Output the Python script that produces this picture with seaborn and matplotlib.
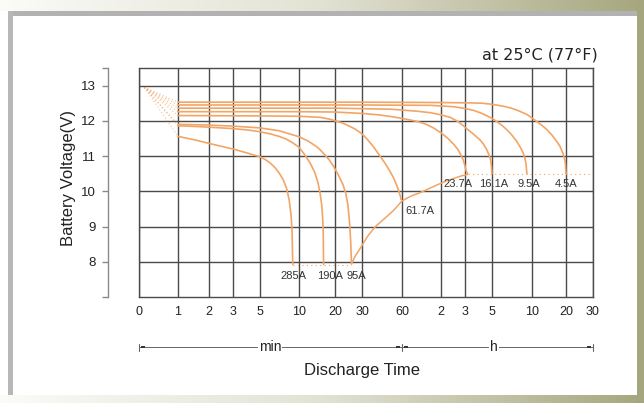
import numpy as np
import pandas as pd
import seaborn as sns
import matplotlib.pyplot as plt
import matplotlib.transforms as mtransforms
from matplotlib.patches import Rectangle
from matplotlib.colors import LinearSegmentedColormap

# discharge curves: time in minutes, voltage in V
t_285 = [1, 1.5, 2, 3, 4, 5, 5.5, 6, 6.5, 7, 7.5, 8, 8.4, 8.7, 8.85, 8.9, 8.95]
v_285 = [11.56, 11.45, 11.36, 11.2, 11.08, 10.98, 10.9, 10.8, 10.68, 10.53, 10.35, 10.1,
         9.75, 9.3, 8.8, 8.3, 7.92]

t_190 = [1, 1.5, 2, 3, 4, 5, 6, 7, 8, 9, 10, 11, 12.4, 13.5, 14.4, 15, 15.5, 15.8, 15.95, 16.0, 16.05]
v_190 = [11.86, 11.84, 11.82, 11.78, 11.74, 11.69, 11.63, 11.56, 11.48, 11.37, 11.25, 11.07,
         10.8, 10.55, 10.25, 9.95, 9.6, 9.2, 8.8, 8.35, 7.92]

t_95 = [1, 2, 3, 5, 7, 10, 12, 14, 15, 16.5, 18, 19.5, 21, 22.5, 23.5, 24.3, 24.9, 25.3, 25.5, 25.6]
v_95 = [11.9, 11.88, 11.85, 11.8, 11.72, 11.55, 11.42, 11.27, 11.18, 11.03, 10.88, 10.7,
        10.47, 10.2, 9.95, 9.6, 9.1, 8.6, 8.2, 7.94]

t_617 = [1, 5, 10, 15, 18, 20, 22, 24, 27, 30, 33, 37, 41, 45, 49, 52, 55, 57, 58.5, 59]
v_617 = [12.15, 12.14, 12.13, 12.1, 12.05, 12.0, 11.95, 11.88, 11.77, 11.63, 11.47, 11.24,
         11.0, 10.78, 10.55, 10.37, 10.15, 9.98, 9.85, 9.77]

t_237 = [1, 10, 20, 30, 40, 50, 60, 75, 90, 105, 120, 135, 150, 160, 168, 175, 180, 184, 189]
v_237 = [12.26, 12.26, 12.25, 12.21, 12.17, 12.12, 12.07, 12.0, 11.92, 11.8, 11.66, 11.5,
         11.32, 11.18, 11.03, 10.88, 10.72, 10.58, 10.5]

t_161 = [1, 20, 50, 80, 100, 120, 140, 160, 175, 190, 205, 220, 239, 255, 270, 282, 292, 297, 300]
v_161 = [12.36, 12.36, 12.33, 12.27, 12.23, 12.17, 12.1, 11.98, 11.86, 11.75, 11.66, 11.57,
         11.46, 11.34, 11.2, 11.05, 10.9, 10.7, 10.5]

t_95h = [1, 30, 100, 150, 180, 210, 240, 270, 300, 326, 360, 400, 431, 460, 490, 514, 530, 542, 549]
v_95h = [12.45, 12.45, 12.44, 12.4, 12.35, 12.3, 12.23, 12.15, 12.07, 11.98, 11.86, 11.7,
         11.56, 11.42, 11.25, 11.1, 10.95, 10.75, 10.5]

t_45 = [1, 30, 120, 200, 250, 300, 360, 420, 480, 550, 650, 730, 814, 900, 980, 1060, 1120,
        1160, 1185, 1200]
v_45 = [12.53, 12.53, 12.52, 12.51, 12.5, 12.47, 12.42, 12.36, 12.28, 12.18, 12.0, 11.88,
        11.75, 11.6, 11.44, 11.28, 11.1, 10.95, 10.8, 10.5]

# final discharge voltage line
t_end = [25.6, 27, 29.1, 31, 33, 36, 38.3, 42, 46, 51.6, 56, 59.7, 65, 72, 80, 87.5, 100,
         115, 131, 150, 170, 189]
v_end = [7.94, 8.15, 8.37, 8.55, 8.72, 8.9, 9.02, 9.15, 9.28, 9.45, 9.6, 9.72, 9.8, 9.88,
         9.94, 10.0, 10.1, 10.2, 10.29, 10.37, 10.44, 10.48]

currents = ['285A', '190A', '95A', '61.7A', '23.7A', '16.1A', '9.5A', '4.5A']
curves_t = [t_285, t_190, t_95, t_617, t_237, t_161, t_95h, t_45]
curves_v = [v_285, v_190, v_95, v_617, v_237, v_161, v_95h, v_45]

# label anchor for each current
label_t = [9.0, 18.2, 27.7, 82, 160, 311, 571, 1200]
label_v = [7.6, 7.6, 7.6, 9.44, 10.2, 10.2, 10.2, 10.2]

# x tick values (minutes) and their labels
tick_t = [0.5, 1, 2, 3, 5, 10, 20, 30, 60, 120, 180, 300, 600, 1200, 1800]
tick_lab = ['0', '1', '2', '3', '5', '10', '20', '30', '60', '2', '3', '5', '10', '20', '30']
# the printed grid is not quite logarithmic, so map ticks to where they sit
tick_px = [139, 178, 209, 233, 260, 299, 335, 362, 402, 441, 465, 492, 532, 566, 593]

lg = np.log10(tick_t)
lg_ext = np.concatenate([[-3], lg, [6]])
px_ext = np.concatenate([[tick_px[0] - 130 * (lg[0] + 3)], tick_px,
                         [tick_px[-1] + 130 * (6 - lg[-1])]])


def fwd(t):
    t = np.clip(np.asarray(t, dtype=float), 1e-3, 1e6)
    return np.interp(np.log10(t), lg_ext, px_ext)


def inv(p):
    return 10 ** np.interp(np.asarray(p, dtype=float), px_ext, lg_ext)


sns.set_theme(style='white')
plt.rcParams['font.family'] = ['Liberation Sans', 'DejaVu Sans']

orange = '#f2a565'
gridc = '#4a4a4a'
txt = '#222222'

fig = plt.figure(figsize=(6.44, 4.03), dpi=100)

# page frame behind the chart
bg = fig.add_axes([0, 0, 1, 1], zorder=-10)
bg.axis('off')
grad = np.linspace(0, 1, 256)[None, :]
cm = LinearSegmentedColormap.from_list('frame', ['#fbfbf8', '#e2e2d4', '#a6a67e'])
bg.imshow(grad, cmap=cm, extent=[0, 644, 11, 0], aspect='auto')
bg.imshow(grad, cmap=cm, extent=[0, 644, 403, 395], aspect='auto')
bg.add_patch(Rectangle((8, 11), 636, 5, color='#b2b2b2', lw=0))
bg.add_patch(Rectangle((8, 11), 5, 384, color='#b8b8b8', lw=0))
bg.add_patch(Rectangle((637, 0), 7, 403, color='#a6a67e', lw=0))
bg.set_xlim(0, 644)
bg.set_ylim(403, 0)

ax = fig.add_axes([139 / 644, 1 - 297 / 403, 454 / 644, 229 / 403])
ax.set_xscale('function', functions=(fwd, inv))

for t, v in zip(curves_t, curves_v):
    sns.lineplot(x=t, y=v, sort=False, estimator=None, color=orange, lw=1.2, ax=ax, zorder=3)
    # dotted lead-in from the open-circuit voltage
    ax.plot([0.55, 1], [12.95, v[0]], ls=(0, (1, 2)), lw=0.8, color=orange, alpha=0.7, zorder=3)

sns.lineplot(x=t_end, y=v_end, sort=False, estimator=None, color=orange, lw=1.1, ax=ax, zorder=3)

# dotted cut-off lines
ax.plot([8.95, 25.6], [7.92, 7.92], ls=(0, (1, 3)), lw=0.8, color=orange, zorder=3)
ax.plot([189, 1750], [10.5, 10.5], ls=(0, (1, 3)), lw=0.8, color=orange, zorder=3)

for lab, lt, lv in zip(currents, label_t, label_v):
    ax.text(lt, lv, lab, ha='center', va='center', fontsize=8, color='#333333', zorder=4)

ax.set_xlim(0.5, 1800)
ax.set_ylim(7, 13.5)
ax.set_xticks(tick_t)
ax.set_xticklabels(tick_lab)
ax.set_yticks([8, 9, 10, 11, 12, 13])
ax.set_yticks([7, 13.5], minor=True)
ax.grid(True, color=gridc, lw=1.0)
ax.set_axisbelow(True)

for s in ['top', 'right', 'bottom']:
    ax.spines[s].set_color(gridc)
    ax.spines[s].set_linewidth(1.0)
ax.spines['left'].set_position(('outward', 22))
ax.spines['left'].set_color('#8a8a8a')
ax.spines['left'].set_linewidth(1.0)
ax.axvline(0.5, color=gridc, lw=1.0, clip_on=False)

ax.tick_params(axis='x', length=0, pad=6.5, labelsize=9, labelcolor=txt)
ax.tick_params(axis='y', which='both', left=True, length=4, width=1, color='#8a8a8a',
               pad=5, labelsize=9.5, labelcolor=txt)

fig.text(68 / 644, 1 - 178 / 403, 'Battery Voltage(V)', rotation=90, ha='center',
         va='center', fontsize=12, color=txt)
fig.text(362 / 644, 1 - 370 / 403, 'Discharge Time', ha='center', va='center',
         fontsize=12, color=txt)
fig.text(598 / 644, 1 - 55 / 403, 'at 25°C (77°F)', ha='right', va='center',
         fontsize=11.5, color=txt, family='DejaVu Sans')

# min / h bracket under the time axis
tr = mtransforms.blended_transform_factory(ax.transData, fig.transFigure)
yb = 1 - 347 / 403
dy = 3.5 / 403
brc = '#666666'
for a, b in [(0.5, 60), (60, 1800)]:
    ax.plot([a, b], [yb, yb], color=brc, lw=0.7, transform=tr, clip_on=False)
for xe in [0.5, 60, 1800]:
    ax.plot([xe, xe], [yb - dy, yb + dy], color=brc, lw=0.8, transform=tr, clip_on=False)
# short dark dashes just inside each bracket end
for xe, side in [(0.5, 1), (60, -1), (60, 1), (1800, -1)]:
    p0 = fwd(xe) + side * 2
    p1 = fwd(xe) + side * 6
    ax.plot([inv(p0), inv(p1)], [yb, yb], color='#333333', lw=1.4, transform=tr,
            clip_on=False, solid_capstyle='butt')
ax.text(inv(270), yb, 'min', ha='center', va='center', fontsize=10, color=txt,
        transform=tr, bbox=dict(fc='white', ec='none', pad=0.5))
ax.text(inv(494), yb, 'h', ha='center', va='center', fontsize=10, color=txt,
        transform=tr, bbox=dict(fc='white', ec='none', pad=0.5))

fig.savefig('out.png', dpi=100)
